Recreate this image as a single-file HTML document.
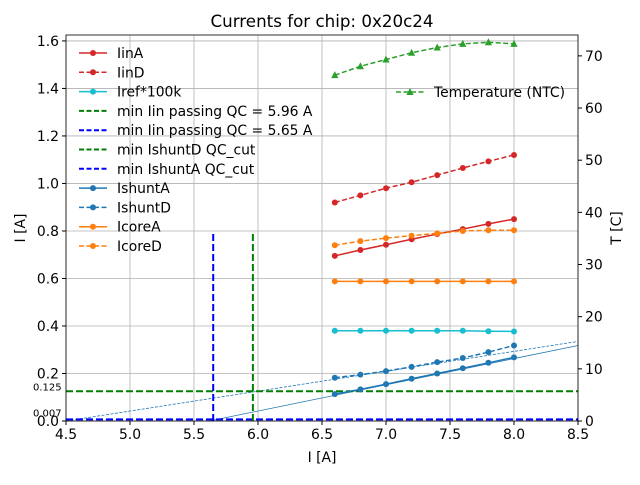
<!DOCTYPE html>
<html><head><meta charset="utf-8"><style>
body{margin:0;background:#fff;font-family:"Liberation Sans","DejaVu Sans",sans-serif}
svg text{font-family:"DejaVu Sans","Liberation Sans",sans-serif}
</style></head><body>
<svg id="c" width="640" height="480"></svg>
<script>
const xs=[6.6,6.8,7.0,7.2,7.4,7.6,7.8,8.0];
const iinA=[0.695,0.72,0.742,0.765,0.787,0.808,0.83,0.85];
const iinD=[0.92,0.95,0.98,1.005,1.035,1.065,1.093,1.12];
const iref=[0.38,0.38,0.38,0.38,0.38,0.38,0.378,0.377];
const ishuntA=[0.113,0.133,0.155,0.178,0.2,0.222,0.245,0.268];
const ishuntD=[0.182,0.195,0.21,0.228,0.248,0.265,0.29,0.318];
const icoreA=[0.588,0.588,0.588,0.588,0.588,0.588,0.588,0.588];
const icoreD=[0.74,0.757,0.77,0.78,0.79,0.8,0.803,0.803];
const temp=[66.3,68,69.3,70.6,71.6,72.3,72.6,72.3];
const xTicks=[4.5,5.0,5.5,6.0,6.5,7.0,7.5,8.0,8.5];
const yTicks=[0,0.2,0.4,0.6,0.8,1.0,1.2,1.4,1.6];
const tTicks=[0,10,20,30,40,50,60,70];
const fitA=[[5.62,0],[8.5,0.318]];
const fitD=[[4.5,0],[8.5,0.335]];
const qcIin=5.96, qcIinA=5.65, shuntD=0.125, shuntA=0.007;

const L=66,R=578,T=35,B=421;
const X=v=>L+(v-4.5)/4*(R-L);
const Y=v=>B-v/1.625*(B-T);
const YT=v=>B-v/74*(B-T);
const svg=document.getElementById('c');
const NS='http://www.w3.org/2000/svg';
function el(tag,at,txt){const e=document.createElementNS(NS,tag);for(const k in at)e.setAttribute(k,at[k]);if(txt!==undefined)e.textContent=txt;svg.appendChild(e);return e;}
const FS=13.9;
xTicks.forEach(t=>{const g=el('line',{x1:X(t),x2:X(t),y1:T,y2:B,stroke:'#b0b0b0','stroke-width':0.8});


const tl=el('text',{x:X(t),y:B+18,'font-size':FS,'text-anchor':'middle'},t.toFixed(1));


el('line',{x1:X(t),x2:X(t),y1:B,y2:B+4,stroke:'#000'});});
yTicks.forEach(t=>{const g=el('line',{x1:L,x2:R,y1:Y(t),y2:Y(t),stroke:'#b0b0b0','stroke-width':0.8});


const tl=el('text',{x:L-7,y:Y(t)+5,'font-size':FS,'text-anchor':'end'},t.toFixed(1));


el('line',{x1:L-4,x2:L,y1:Y(t),y2:Y(t),stroke:'#000'});});
tTicks.forEach(t=>{el('line',{x1:R,x2:R+4,y1:YT(t),y2:YT(t),stroke:'#000'});
const tl=el('text',{x:R+7,y:YT(t)+5,'font-size':FS},String(t));

});
function line(pts,color,dash,w,name){const p=el('polyline',{points:pts.map(q=>q.join(',')).join(' '),fill:'none',stroke:color,'stroke-width':w,'stroke-dasharray':dash||'none'});

return p;}
line([[X(fitA[0][0]),Y(fitA[0][1])],[X(fitA[1][0]),Y(fitA[1][1])]],'#1f77b4','',0.8,'ishunta-fit');
line([[X(fitD[0][0]),Y(fitD[0][1])],[X(fitD[1][0]),Y(fitD[1][1])]],'#1f77b4','3,1.5',0.8,'ishuntd-fit');
line([[L,Y(shuntD)],[R,Y(shuntD)]],'#008000','7,3',2,'min-ishuntd-qc-cut');
line([[L,Y(shuntA)],[R,Y(shuntA)]],'#0000ff','7,3',2,'min-ishunta-qc-cut');
line([[X(qcIin),B],[X(qcIin),Y(0.8)]],'#008000','7,3',2,'min-iin-passing-qc');
line([[X(qcIinA),B],[X(qcIinA),Y(0.8)]],'#0000ff','7,3',2,'min-iin-a-passing-qc');
let t1=el('text',{x:33,y:Y(shuntD)-1,'font-size':10},'0.125');
let t2=el('text',{x:33,y:Y(shuntA)-3,'font-size':10},'0.007');
function series(vals,color,dash,name,yf,marker){const pts=xs.map((x,i)=>[X(x),yf(vals[i])]);line(pts,color,dash,1.5,name);
pts.forEach(p=>{let m;if(marker==='tri')m=el('polygon',{points:`${p[0]},${p[1]-4} ${p[0]-3.6},${p[1]+3} ${p[0]+3.6},${p[1]+3}`,fill:color});else m=el('circle',{cx:p[0],cy:p[1],r:3,fill:color});

});}
series(iinA,'#d62728','','iina',Y);
series(iinD,'#d62728','5,2.5','iind',Y);
series(iref,'#17becf','','iref',Y);
series(ishuntA,'#1f77b4','','ishunta',Y);
series(ishuntD,'#1f77b4','5,2.5','ishuntd',Y);
series(icoreA,'#ff7f0e','','icorea',Y);
series(icoreD,'#ff7f0e','5,2.5','icored',Y);
series(temp,'#2ca02c','5,2.5','temperature',YT,'tri');
el('rect',{x:L,y:T,width:R-L,height:B-T,fill:'none',stroke:'#000','stroke-width':0.8});
const leg=[['IinA','#d62728','',1],['IinD','#d62728','5,2.5',1],['Iref*100k','#17becf','',1],['min Iin passing QC = 5.96 A','#008000','5,2.5',0],['min Iin passing QC = 5.65 A','#0000ff','5,2.5',0],['min IshuntD QC_cut','#008000','5,2.5',0],['min IshuntA QC_cut','#0000ff','5,2.5',0],['IshuntA','#1f77b4','',1],['IshuntD','#1f77b4','5,2.5',1],['IcoreA','#ff7f0e','',1],['IcoreD','#ff7f0e','5,2.5',1]];
leg.forEach((e,i)=>{const y=53+i*19.3;line([[79,y],[107,y]],e[1],e[2],e[3]?1.5:2,'legend-line');
if(e[3])el('circle',{cx:93,cy:y,r:3,fill:e[1]});
const t=el('text',{x:117,y:y+5,'font-size':FS},e[0]);

});
line([[396,92],[424,92]],'#2ca02c','5,2.5',1.5,'legend-temp-line');
el('polygon',{points:'410,88 406.4,95 413.6,95',fill:'#2ca02c'});
let lt=el('text',{x:434,y:97,'font-size':FS},'Temperature (NTC)');
let ti=el('text',{x:322,y:27,'font-size':16.7,'text-anchor':'middle'},'Currents for chip: 0x20c24');
let xl=el('text',{x:322,y:462,'font-size':FS,'text-anchor':'middle'},'I [A]');
let yl=el('text',{x:25,y:228,'font-size':FS,'text-anchor':'middle',transform:'rotate(-90 25 228)'},'I [A]');
let yr=el('text',{x:621,y:228,'font-size':FS,'text-anchor':'middle',transform:'rotate(-90 621 228)'},'T [C]');
</script>
</body></html>
